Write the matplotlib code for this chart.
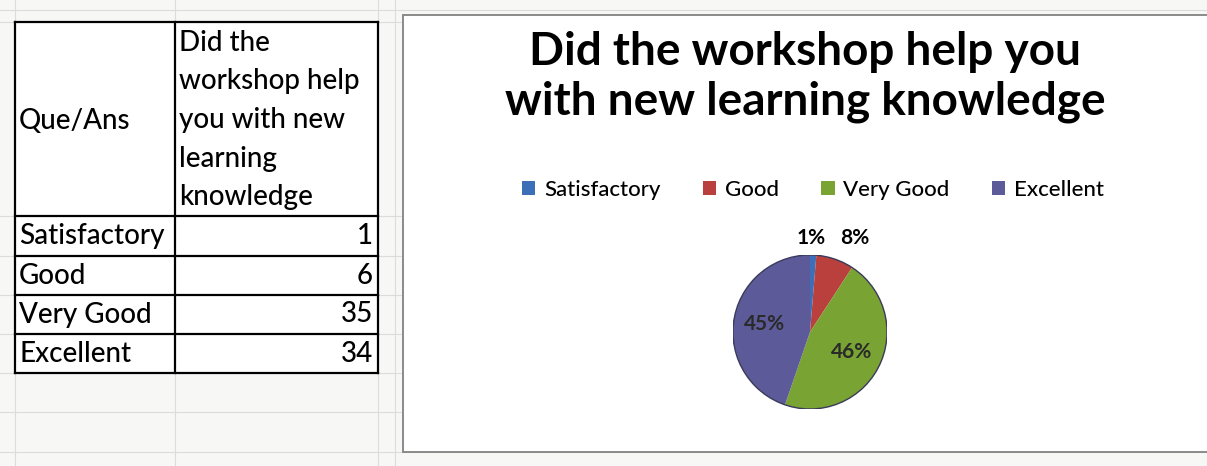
import matplotlib.pyplot as plt
from matplotlib.patches import Rectangle, Circle

# survey data
categories = ['Satisfactory', 'Good', 'Very Good', 'Excellent']
counts = [1, 6, 35, 34]
header_left = 'Que/Ans'
header_right = ['Did the', 'workshop help', 'you with new', 'learning', 'knowledge']
title = 'Did the workshop help you\nwith new learning knowledge'
colors = ['#3d6fb8', '#b9403c', '#79a332', '#5d5a9a']

plt.rcParams['font.family'] = ['Lato', 'DejaVu Sans']

W, H = 1207, 466
fig = plt.figure(figsize=(W / 100, H / 100), dpi=100)
fig.patch.set_facecolor('#f7f7f5')

# background axes in pixel coordinates
bg = fig.add_axes([0, 0, 1, 1])
bg.set_xlim(0, W)
bg.set_ylim(H, 0)
bg.axis('off')

# faint spreadsheet grid
for y in [10, 22, 216, 256, 295, 334, 373, 412, 452]:
    bg.plot([0, W], [y, y], color='#dcdcdc', lw=0.8, zorder=0)
for x in [15, 175, 378, 395]:
    bg.plot([x, x], [0, H], color='#dcdcdc', lw=0.8, zorder=0)

# table
row_y = [22, 216, 256, 295, 334, 373]
col_x = [15, 175, 378]
bg.add_patch(Rectangle((col_x[0], row_y[0]), col_x[2] - col_x[0], row_y[-1] - row_y[0],
                       facecolor='white', edgecolor='none', zorder=1))
for y in row_y:
    bg.plot([col_x[0], col_x[2]], [y, y], color='black', lw=1.6, zorder=2)
for x in col_x:
    bg.plot([x, x], [row_y[0], row_y[-1]], color='black', lw=1.6, zorder=2)

tfont = 20
bg.text(col_x[0] + 4, (row_y[0] + row_y[1]) / 2 + 2, header_left, fontsize=tfont,
        ha='left', va='center', fontweight='medium', zorder=3)
for i, line in enumerate(header_right):
    bg.text(col_x[1] + 4, 43 + i * 38.5, line, fontsize=tfont, ha='left', va='center',
            fontweight='medium', zorder=3)
for i, (cat, n) in enumerate(zip(categories, counts)):
    yc = (row_y[i + 1] + row_y[i + 2]) / 2
    bg.text(col_x[0] + 4, yc, cat, fontsize=tfont, ha='left', va='center',
            fontweight='medium', zorder=3)
    bg.text(col_x[2] - 5, yc, str(n), fontsize=tfont, ha='right', va='center',
            fontweight='medium', zorder=3)

# chart box
bg.add_patch(Rectangle((403, 15), W, 437, facecolor='white', edgecolor='#8a8a8a', lw=1.4, zorder=1))
bg.text(805, 77, title, fontsize=33, fontweight='bold', ha='center', va='center',
        linespacing=1.2, zorder=3)

# pie
cx, cy, r = 810, 332, 77
pax = fig.add_axes([(cx - r) / W, (H - cy - r) / H, 2 * r / W, 2 * r / H])
wedges, texts, autotexts = pax.pie(counts, colors=colors, startangle=90, counterclock=False,
                                   autopct='%1.0f%%', pctdistance=0.6,
                                   wedgeprops=dict(edgecolor='none'),
                                   textprops=dict(fontsize=15, fontweight='bold', color='#2a2a2a'))
pax.add_patch(Circle((0, 0), 1, fill=False, edgecolor='#3a3a5a', lw=1.0))
pax.set_xlim(-1, 1)
pax.set_ylim(-1, 1)
# small slices get their labels above the pie
autotexts[0].set_position((0.02, 1.22))
autotexts[1].set_position((0.58, 1.22))
autotexts[0].set_color('black')
autotexts[1].set_color('black')

leg = bg.legend(wedges, categories, loc='center', bbox_to_anchor=(813 / W, 1 - 190 / H),
                bbox_transform=fig.transFigure, ncol=4, frameon=False,
                prop=dict(size=16, weight='medium'),
                handlelength=0.6, handleheight=0.6, handletextpad=0.4, columnspacing=1.9)

fig.savefig('out.png', dpi=100, facecolor=fig.get_facecolor())
